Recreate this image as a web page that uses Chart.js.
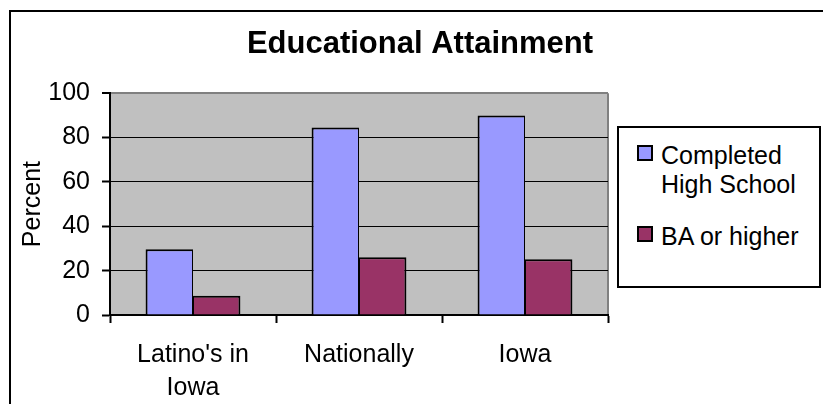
<!DOCTYPE html>
<html>
<head>
<meta charset="utf-8">
<script src="https://cdn.jsdelivr.net/npm/chart.js@4.4.0/dist/chart.umd.min.js"></script>
<style>
    body { margin: 0; background: #fff; overflow: hidden; }
    #moldura {
        position: absolute; left: 9px; top: 10px; width: 900px; height: 500px;
        border-left: 2px solid #000; border-top: 2px solid #000;
    }
    #area { position: absolute; left: 0; top: 0; width: 823px; height: 404px; }
    #legenda {
        position: absolute; left: 617px; top: 126px; width: 204px; height: 162px;
        box-sizing: border-box; border: 2px solid #000; background: #fff;
        font-family: Arial, "Liberation Sans", sans-serif; font-size: 25px; line-height: 29px; color: #000;
    }
    .item { position: absolute; left: 42px; width: 160px; }
    .quadrado { position: absolute; left: -24px; top: 4px; width: 16px; height: 16px; box-sizing: border-box; border: 2px solid #000; }
</style>
</head>
<body>
<div id="moldura"></div>
<div id="area"><canvas id="grafico"></canvas></div>
<div id="legenda"></div>
<script>
// dados
var categorias = [["Latino's in", "Iowa"], "Nationally", "Iowa"];
var nomesSeries = ["Completed High School", "BA or higher"];
var ensinoMedio = [29.6, 84.5, 89.9];
var superior = [8.7, 26.0, 25.1];
var coresSeries = ["#9999FF", "#993366"];
var eixoY = { min: 0, max: 100, passo: 20 };

var fonte = 'Arial, "Liberation Sans", sans-serif';

// fundo cinza da area de plotagem
var fundoPlot = {
    id: 'fundoPlot',
    beforeDraw: function(chart) {
        var ctx = chart.ctx;
        var a = chart.chartArea;
        ctx.save();
        ctx.fillStyle = '#C0C0C0';
        ctx.fillRect(a.left, a.top, a.right - a.left, a.bottom - a.top);
        ctx.strokeStyle = '#808080';
        ctx.lineWidth = 2;
        ctx.beginPath();
        ctx.moveTo(a.right, a.top);
        ctx.lineTo(a.right, a.bottom);
        ctx.stroke();
        ctx.restore();
    }
};

var ctx = document.getElementById("grafico").getContext("2d");

new Chart(ctx, {
    type: "bar",
    data: {
        labels: categorias,
        datasets: [{
            label: nomesSeries[0],
            data: ensinoMedio,
            backgroundColor: coresSeries[0],
            borderColor: "#000",
            borderWidth: { left: 2, top: 2, right: 1, bottom: 0 },
            borderSkipped: false
        }, {
            label: nomesSeries[1],
            data: superior,
            backgroundColor: coresSeries[1],
            borderColor: "#000",
            borderWidth: { left: 1, top: 2, right: 2, bottom: 0 },
            borderSkipped: false
        }]
    },
    options: {
        responsive: true,
        maintainAspectRatio: false,
        animation: false,
        datasets: {
            // gap width 150% como no excel
            bar: { categoryPercentage: 2 / 3.5, barPercentage: 1 }
        },
        layout: { padding: { left: 17, right: 0, top: 0, bottom: 0 } },
        plugins: {
            legend: { display: false },
            tooltip: { enabled: false },
            title: {
                display: true,
                text: "Educational Attainment",
                color: "#000",
                font: { family: fonte, size: 31, weight: "bold", lineHeight: 1.2 },
                padding: { top: 26, bottom: 30 }
            }
        },
        scales: {
            x: {
                grid: {
                    display: true,
                    drawOnChartArea: false,
                    drawTicks: true,
                    tickLength: 8,
                    tickColor: "#000",
                    tickWidth: 2
                },
                border: { display: true, color: "#000", width: 2 },
                ticks: {
                    color: "#000",
                    padding: 15,
                    maxRotation: 0,
                    autoSkip: false,
                    font: { family: fonte, size: 25, lineHeight: 1.33 }
                },
                afterFit: function(s) { s.height = 89; }
            },
            y: {
                min: eixoY.min,
                max: eixoY.max,
                ticks: {
                    stepSize: eixoY.passo,
                    color: "#000",
                    padding: 12,
                    font: { family: fonte, size: 25 }
                },
                grid: {
                    color: function(c) { return c.tick && c.tick.value === eixoY.max ? "#808080" : "#000"; },
                    lineWidth: function(c) { return c.tick && c.tick.value === eixoY.max ? 2 : 1; },
                    tickColor: "#000",
                    tickWidth: 2,
                    tickLength: 8
                },
                border: { display: true, color: "#000", width: 2 },
                title: {
                    display: true,
                    text: "Percent",
                    color: "#000",
                    font: { family: fonte, size: 25, lineHeight: 1.2 },
                    padding: { top: 1, bottom: 0 }
                },
                afterFit: function(s) { s.width = 93; }
            },
            espacoLegenda: {
                position: "right",
                display: true,
                grid: { display: false },
                border: { display: false },
                ticks: { display: false },
                afterFit: function(s) { s.width = 215; }
            }
        }
    },
    plugins: [fundoPlot]
});

// legenda em html
var legenda = document.getElementById("legenda");
var topos = [13, 94];
for (var i = 0; i < nomesSeries.length; i++) {
    legenda.innerHTML += `<div class="item" style="top:${topos[i]}px"><span class="quadrado" style="background:${coresSeries[i]}"></span>${nomesSeries[i]}</div>`;
}
</script>
</body>
</html>
